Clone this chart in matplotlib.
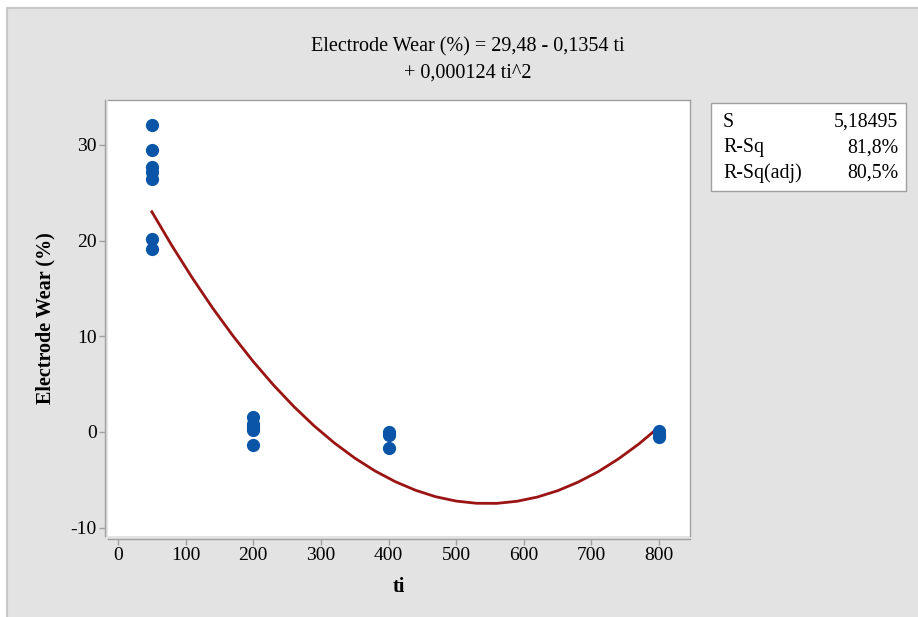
import numpy as np
import matplotlib.pyplot as plt
from matplotlib.patches import Rectangle

# ─── data ──────────────────────────────────────────────────────
ti_obs   = [50, 50, 50, 50, 50, 50, 50,
            200, 200, 200, 200, 200,
            400, 400, 400,
            800, 800, 800]
wear_obs = [32.1, 29.5, 27.7, 27.2, 26.4, 20.2, 19.1,
            1.6, 0.8, 0.5, 0.2, -1.4,
            0.0, -0.3, -1.7,
            0.1, -0.2, -0.5]

ti_fit   = [50, 80, 110, 140, 170, 200, 230, 260, 290, 320, 350, 380, 410,
            440, 470, 500, 530, 560, 590, 620, 650, 680, 710, 740, 770, 800]
wear_fit = [23.02, 19.44, 16.09, 12.95, 10.05, 7.36, 4.90, 2.66, 0.64, -1.15,
            -2.72, -4.07, -5.19, -6.09, -6.77, -7.22, -7.45, -7.46, -7.24,
            -6.80, -6.14, -5.25, -4.15, -2.81, -1.26, 0.52]

x_ticks = [0, 100, 200, 300, 400, 500, 600, 700, 800]
y_ticks = [-10, 0, 10, 20, 30]

stat_names  = ["S", "R-Sq", "R-Sq(adj)"]
stat_values = ["5,18495", "81,8%", "80,5%"]

title_lines = ["Electrode Wear (%) = 29,48 - 0,1354 ti", "+ 0,000124 ti^2"]

# ─── style ─────────────────────────────────────────────────────
plt.rcParams["font.family"] = ["Liberation Serif", "DejaVu Serif"]
plt.rcParams["font.size"] = 14
plt.rcParams["axes.unicode_minus"] = False
W, H = 918, 617
PANEL = "#e3e3e3"
EDGE  = "#a0a0a0"

fig = plt.figure(figsize=(W / 100, H / 100), dpi=100)
fig.patch.set_facecolor("white")
fig.patches.append(Rectangle((7 / W, -0.01), 1.0, 1 - 8 / H + 0.01,
                             transform=fig.transFigure, facecolor=PANEL,
                             edgecolor="#c8c8c8", lw=1.5, zorder=-10))

ax = fig.add_axes([108 / W, 1 - 536 / H, (690 - 108) / W, (536 - 100) / H])
ax.set_facecolor("white")

ax.plot(ti_fit, wear_fit, color="#9b1414", lw=2.0, zorder=2)
ax.plot(ti_obs, wear_obs, "o", color="#0b55a8", ms=8.5, mec="#0b55a8", zorder=3)

ax.set_xlim(-14.8, 845.8)
ax.set_ylim(-10.87, 34.7)
ax.set_xticks(x_ticks)
ax.set_yticks(y_ticks)
for s in ax.spines.values():
    s.set_color(EDGE)
    s.set_linewidth(1.0)
ax.spines["left"].set_position(("outward", 2))
ax.spines["bottom"].set_position(("outward", 2))
ax.tick_params(direction="out", length=4, width=1, color=EDGE, labelsize=14,
               pad=2)

ax.set_xlabel("ti", fontweight="bold", fontsize=14.5, labelpad=9)
ax.set_ylabel("Electrode Wear (%)", fontweight="bold", fontsize=14.5, labelpad=11)

fig.text(468 / W, 1 - 47 / H, title_lines[0], ha="center", va="center",
         fontsize=14.5)
fig.text(468 / W, 1 - 73 / H, title_lines[1], ha="center", va="center",
         fontsize=14.5)

# stats box
fig.patches.append(Rectangle((711 / W, 1 - 191 / H), (906 - 711) / W,
                             (191 - 103) / H, transform=fig.transFigure,
                             facecolor="white", edgecolor=EDGE, lw=1.0))
for i, (name, val) in enumerate(zip(stat_names, stat_values)):
    y = 1 - (122.5 + 25.3 * i) / H
    fig.text(723 / W, y, name, ha="left", va="center", fontsize=14.3)
    fig.text(898 / W, y, val, ha="right", va="center", fontsize=14.3)

fig.savefig("out.png", dpi=100)
